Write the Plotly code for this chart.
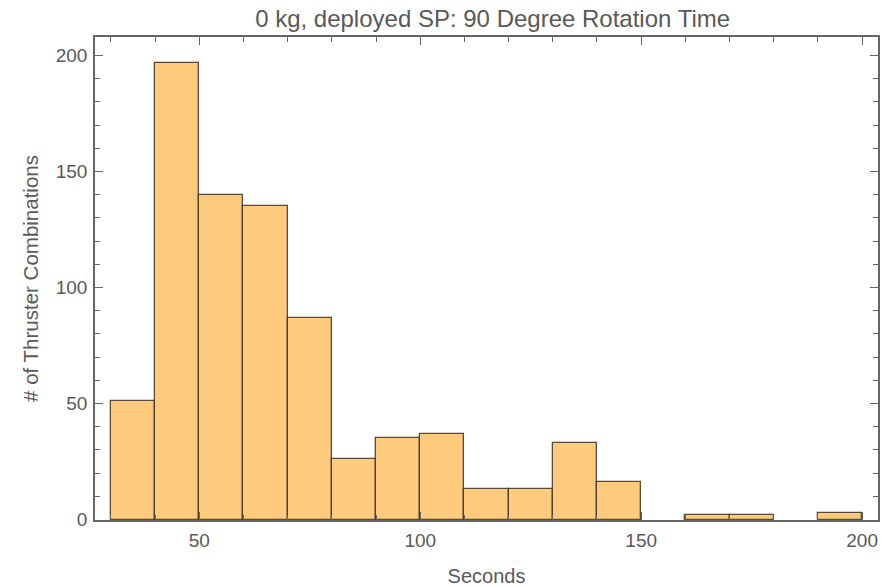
import plotly.graph_objects as go

# Histogram data (bin width 10 seconds)
bin_starts = [30, 40, 50, 60, 70, 80, 90, 100, 110, 120, 130, 140, 150, 160, 170, 180, 190]
counts = [51, 197, 140, 135, 87, 26, 35, 37, 13, 13, 33, 16, 0, 2, 2, 0, 3]
bin_width = 10

x_ticks = [50, 100, 150, 200]
y_ticks = [0, 50, 100, 150, 200]

title_text = "0 kg, deployed SP: 90 Degree Rotation Time"
x_title = "Seconds"
y_title = "# of Thruster Combinations"

centers = [s + bin_width / 2 for s in bin_starts]
yvals = [c if c > 0 else None for c in counts]

fig = go.Figure()
fig.add_trace(go.Bar(
    x=centers, y=yvals, width=bin_width,
    marker=dict(color="#FDCB7B", line=dict(color="rgba(60,48,35,0.85)", width=1.3)),
    hoverinfo="x+y",
))

font_family = "Liberation Sans, Arial, sans-serif"
axis_color = "#666666"
text_color = "#595959"
fig.update_layout(
    width=886, height=587,
    margin=dict(l=95, r=8, t=37, b=67),
    paper_bgcolor="white", plot_bgcolor="white",
    showlegend=False, bargap=0,
    title=dict(text=title_text, x=0.556, xanchor="center", y=0.968, yanchor="middle",
               font=dict(family=font_family, size=24, color=text_color)),
    font=dict(family=font_family, color=text_color),
)
fig.update_xaxes(
    range=[26.4, 203.6], tickvals=x_ticks, ticks="inside", ticklen=8, tickwidth=1,
    tickcolor=axis_color, showline=True, linecolor=axis_color, linewidth=1.5, mirror="allticks",
    showgrid=False, zeroline=False, ticklabelstandoff=2, automargin=False,
    minor=dict(dtick=10, tick0=0, ticks="inside", ticklen=5, tickcolor=axis_color, showgrid=False),
    tickfont=dict(size=19, color=text_color),
    title=dict(text=x_title, font=dict(size=20, color=text_color), standoff=20),
)
fig.update_yaxes(
    range=[-0.2, 208], tickvals=y_ticks, ticks="inside", ticklen=8, tickwidth=1,
    tickcolor=axis_color, showline=True, linecolor=axis_color, linewidth=1.5, mirror="allticks",
    showgrid=False, zeroline=False, ticklabelstandoff=2, automargin=False,
    minor=dict(dtick=10, tick0=0, ticks="inside", ticklen=5, tickcolor=axis_color, showgrid=False),
    tickfont=dict(size=19, color=text_color),
    title=dict(text=y_title, font=dict(size=20.5, color=text_color), standoff=12),
)

fig.write_html("out.html")
